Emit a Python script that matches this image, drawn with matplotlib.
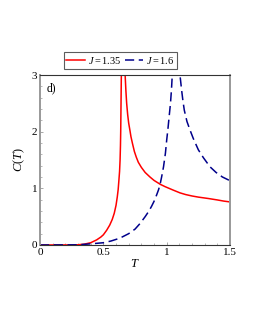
import matplotlib
matplotlib.use("Agg")
import matplotlib.pyplot as plt

plt.rcParams['font.family'] = ['Liberation Serif', 'DejaVu Serif']
plt.rcParams['mathtext.fontset'] = 'custom'
plt.rcParams['mathtext.rm'] = 'Liberation Serif'
plt.rcParams['mathtext.it'] = 'Liberation Serif:italic'

# J = 1.35 (two branches around the peak)
t_red_left = [0.0, 0.25, 0.3, 0.35, 0.37, 0.4, 0.447, 0.48, 0.5, 0.526, 0.55, 0.57, 0.586,
              0.6, 0.61, 0.617, 0.623, 0.628, 0.632, 0.635, 0.637, 0.639, 0.641, 0.643]
c_red_left = [0.0, 0.001, 0.004, 0.015, 0.025, 0.04, 0.09, 0.14, 0.18, 0.26, 0.35, 0.45, 0.56,
              0.7, 0.85, 0.98, 1.15, 1.3, 1.5, 1.75, 2.0, 2.4, 2.8, 3.2]
t_red_right = [0.668, 0.673, 0.678, 0.684, 0.692, 0.70, 0.71, 0.718, 0.73, 0.745, 0.76, 0.776,
               0.80, 0.83, 0.868, 0.9, 0.95, 0.987, 1.05, 1.105, 1.15, 1.2, 1.25, 1.33, 1.4,
               1.45, 1.5]
c_red_right = [3.2, 2.95, 2.72, 2.5, 2.3, 2.15, 2.02, 1.91, 1.79, 1.65, 1.55, 1.46,
               1.37, 1.28, 1.2, 1.14, 1.07, 1.03, 0.97, 0.92, 0.89, 0.865, 0.845, 0.82, 0.795,
               0.775, 0.76]

# J = 1.6
t_blue_left = [0.0, 0.3, 0.4, 0.5, 0.56, 0.63, 0.7, 0.75, 0.79, 0.83, 0.86, 0.88, 0.9, 0.92,
               0.935, 0.947, 0.96, 0.975, 0.99, 1.0, 1.01, 1.02, 1.03, 1.038, 1.044, 1.048]
c_blue_left = [0.0, 0.003, 0.02, 0.04, 0.07, 0.12, 0.2, 0.28, 0.38, 0.5, 0.6, 0.68, 0.77, 0.88,
               0.97, 1.06, 1.2, 1.38, 1.62, 1.85, 2.05, 2.28, 2.5, 2.75, 3.0, 3.2]
t_blue_right = [1.098, 1.105, 1.118, 1.128, 1.139, 1.16, 1.184, 1.21, 1.25, 1.29, 1.342,
                1.39, 1.44, 1.486, 1.5]
c_blue_right = [3.2, 3.0, 2.73, 2.55, 2.38, 2.18, 2.03, 1.88, 1.68, 1.54, 1.38,
                1.28, 1.2, 1.15, 1.13]

x_ticks = [0, 0.5, 1, 1.5]
x_tick_labels = ['0', '0.5', '1', '1.5']
y_ticks = [0, 1, 2, 3]
y_tick_labels = ['0', '1', '2', '3']

fig = plt.figure(figsize=(2.55, 3.3), dpi=100)
ax = fig.add_axes([0.157, 0.2576, 0.745, 0.5151])

red = '#ff0000'
blue = '#00008b'
lr, = ax.plot(t_red_left, c_red_left, color=red, lw=1.1)
ax.plot(t_red_right, c_red_right, color=red, lw=1.1)
lb, = ax.plot(t_blue_left, c_blue_left, color=blue, lw=1.1, dashes=(6, 3))
ax.plot(t_blue_right, c_blue_right, color=blue, lw=1.1, dashes=(6, 3))

ax.set_xlim(0, 1.5)
ax.set_ylim(0, 3)
ax.set_xticks(x_ticks)
ax.set_xticklabels(x_tick_labels)
ax.set_yticks(y_ticks)
ax.set_yticklabels(y_tick_labels)
ax.set_xticks([0.1 * i for i in range(16)], minor=True)
ax.set_yticks([0.2 * i for i in range(16)], minor=True)
ax.tick_params(which='both', direction='in', color='#999999', labelsize=8, pad=2)
ax.tick_params(which='major', length=2.5, width=0.6)
ax.tick_params(which='minor', length=1.5, width=0.5)

for s in ['left', 'right']:
    ax.spines[s].set_color('#999999')
    ax.spines[s].set_linewidth(1.4)
for s in ['top', 'bottom']:
    ax.spines[s].set_color('#333333')
    ax.spines[s].set_linewidth(0.8)

ax.set_xlabel('$T$', fontsize=9, labelpad=1)
ax.set_ylabel('$C(T)$', fontsize=9, labelpad=3)
ax.text(0.035, 0.96, 'd)', transform=ax.transAxes, fontsize=8.5, va='top', ha='left')

leg = fig.legend([lr, lb], ['$J = 1.35$', '$J = 1.6$'], loc='center',
                 bbox_to_anchor=(0.4725, 0.8167), ncol=2, fontsize=7.5,
                 frameon=True, fancybox=False, edgecolor='#333333',
                 handlelength=1.8, handletextpad=0.3, columnspacing=0.3,
                 borderpad=0.25, borderaxespad=0)
leg.get_frame().set_linewidth(0.8)

fig.savefig('out.png', dpi=100)
